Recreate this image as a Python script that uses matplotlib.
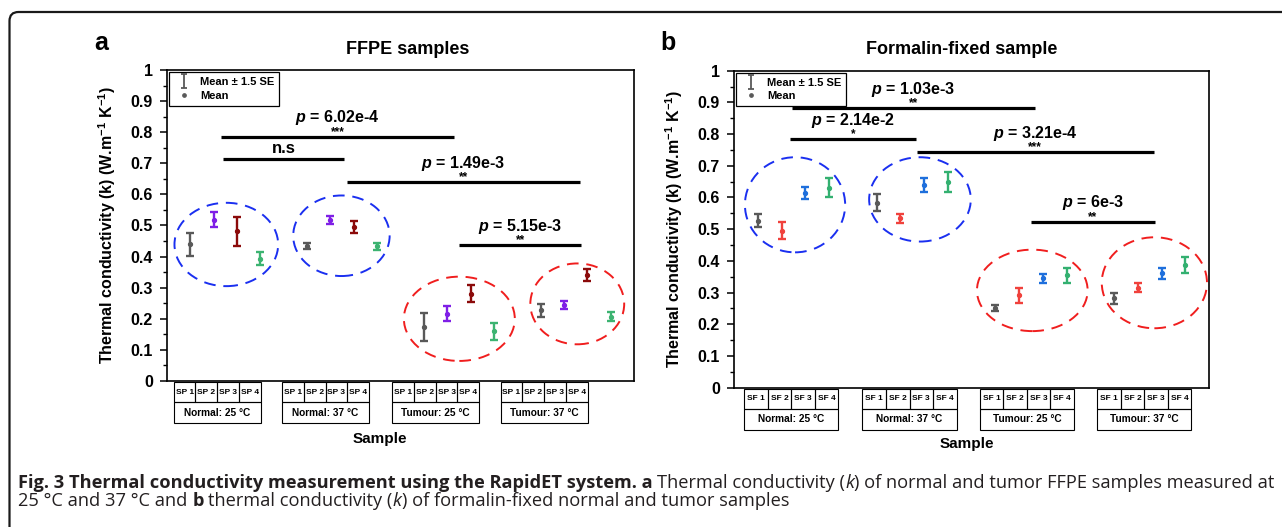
import numpy as np
import matplotlib
matplotlib.use("Agg")
import matplotlib.pyplot as plt
from matplotlib import font_manager
from matplotlib.patches import Ellipse, Rectangle, FancyBboxPatch
from matplotlib.lines import Line2D
from matplotlib.path import Path
from matplotlib.transforms import IdentityTransform
from matplotlib.ticker import MultipleLocator, FuncFormatter

W, H = 1282, 527

plt.rcParams['font.family'] = ['Liberation Sans', 'DejaVu Sans']
plt.rcParams['font.weight'] = 'bold'
plt.rcParams['axes.labelweight'] = 'bold'
plt.rcParams['mathtext.fontset'] = 'custom'
plt.rcParams['mathtext.rm'] = 'Liberation Sans:bold'
plt.rcParams['mathtext.it'] = 'Liberation Sans:italic:bold'
plt.rcParams['mathtext.bf'] = 'Liberation Sans:bold'

# --- data ---
groups = ['Normal: 25 °C', 'Normal: 37 °C', 'Tumour: 25 °C', 'Tumour: 37 °C']
ffpe_names = ['SP 1', 'SP 2', 'SP 3', 'SP 4']
ff_names = ['SF 1', 'SF 2', 'SF 3', 'SF 4']

# FFPE samples, mean and 1.5 SE per group / sample
ffpe_mean = [[0.439, 0.518, 0.481, 0.393],
             [0.434, 0.518, 0.495, 0.433],
             [0.174, 0.217, 0.281, 0.160],
             [0.227, 0.245, 0.340, 0.207]]
ffpe_err = [[0.036, 0.024, 0.047, 0.021],
            [0.011, 0.012, 0.019, 0.011],
            [0.045, 0.024, 0.027, 0.027],
            [0.021, 0.012, 0.019, 0.015]]

# formalin-fixed samples
ff_mean = [[0.527, 0.495, 0.613, 0.630],
           [0.584, 0.534, 0.640, 0.650],
           [0.251, 0.291, 0.345, 0.355],
           [0.282, 0.315, 0.361, 0.387]]
ff_err = [[0.021, 0.027, 0.019, 0.030],
          [0.027, 0.014, 0.023, 0.032],
          [0.009, 0.025, 0.015, 0.024],
          [0.018, 0.014, 0.017, 0.024]]

# significance: (from, to, height, p, stars)
ffpe_sig = [(2.3, 12.3, 0.786, '6.02e-4', '***'),
            (2.4, 7.6, 0.713, None, 'n.s'),
            (7.7, 17.7, 0.639, '1.49e-3', '**'),
            (12.5, 17.75, 0.437, '5.15e-3', '**')]
ff_sig = [(2.45, 12.67, 0.881, '1.03e-3', '**'),
          (2.36, 7.65, 0.784, '2.14e-2', '*'),
          (7.69, 17.68, 0.742, '3.21e-4', '***'),
          (12.5, 17.73, 0.524, '6e-3', '**')]

# --- layout / styles ---
ffpe_colors = ['#595959', '#7f1fe6', '#8b0a0a', '#3cb371']
ff_colors = ['#595959', '#f0413c', '#1e6fdc', '#33b070']
blue_c, red_c = '#1a2ff0', '#f01e1e'

# highlight ellipses (cx, cy, w, h)
ffpe_ell = [(2.54, 0.439, 4.44, 0.268), (7.47, 0.467, 4.13, 0.259),
            (12.52, 0.200, 4.75, 0.271), (17.57, 0.248, 4.02, 0.260)]
ff_ell = [(2.57, 0.577, 4.22, 0.300), (7.83, 0.594, 4.28, 0.266),
          (12.56, 0.307, 4.66, 0.257), (17.70, 0.331, 4.43, 0.287)]

ffpe_box_left, ffpe_cell = [0.29, 4.93, 9.65, 14.29], 0.93
ff_box_left, ff_cell = [0.43, 5.41, 10.35, 15.30], 0.99

# little "I" shaped marker for the legend
ebar_marker = Path([(-0.45, -1), (0.45, -1), (0, -1), (0, 1), (-0.45, 1), (0.45, 1)],
                   [Path.MOVETO, Path.LINETO, Path.MOVETO, Path.LINETO,
                    Path.MOVETO, Path.LINETO])

fig = plt.figure(figsize=(W / 100, H / 100), dpi=100)

# outer frame
frame = FancyBboxPatch((9.5, -30), W + 40, H - 12 + 30,
                       boxstyle="round,pad=0,rounding_size=9",
                       transform=IdentityTransform(), fill=False,
                       edgecolor='#1a1a1a', linewidth=1.6)
fig.add_artist(frame)


def px(x, y):
    return x / W, 1 - y / H


def panel(rect_px, means, errs, colors, names, ell, sig, box_left, cell,
          title, title_x, sample_xy):
    l, t, r, b = rect_px
    ax = fig.add_axes([l / W, 1 - b / H, (r - l) / W, (b - t) / H])
    ax_h = b - t
    ax.set_xlim(0, 20)
    ax.set_ylim(0, 1)

    for g in range(4):
        for i in range(4):
            ax.errorbar(g * 5 + i + 1, means[g][i], yerr=errs[g][i], fmt='o',
                        color=colors[i], ms=2.8, capsize=3.2,
                        elinewidth=1.7, capthick=1.7, zorder=3)

    for k, (cx, cy, w, h) in enumerate(ell):
        ax.add_patch(Ellipse((cx, cy), w, h, fill=False,
                             edgecolor=blue_c if k < 2 else red_c,
                             linewidth=1.4, linestyle=(0, (6, 4))))

    for x0, x1, y, p, stars in sig:
        ax.plot([x0, x1], [y, y], color='black', lw=2.3, solid_capstyle='butt')
        mid = (x0 + x1) / 2
        if p is None:
            ax.text(mid, y + 0.033, stars, ha='center', va='center', fontsize=12)
        else:
            ax.text(mid, y + 0.06, f'$p$ = {p}', ha='center', va='center',
                    fontsize=11.5)
            ax.text(mid, y + 0.006, stars, ha='center', va='baseline', fontsize=8.5)

    # legend
    h1 = Line2D([], [], marker=ebar_marker, ms=9.5, mew=1.3, ls='none',
                color='#595959')
    h2 = Line2D([], [], marker='o', ms=2.4, ls='none', color='#595959')
    leg = ax.legend([h1, h2], ['Mean ± 1.5 SE', 'Mean'], loc='upper left',
                    bbox_to_anchor=(0, 1), borderaxespad=0.2, fancybox=False,
                    edgecolor='black', framealpha=1,
                    handlelength=1.8, handletextpad=0.5, labelspacing=0.3,
                    borderpad=0.45, prop={'weight': 'bold', 'size': 8})
    leg.get_frame().set_linewidth(0.9)

    ax.yaxis.set_major_locator(MultipleLocator(0.1))
    ax.yaxis.set_minor_locator(MultipleLocator(0.05))
    ax.yaxis.set_major_formatter(FuncFormatter(lambda v, _: f'{v:g}'))
    ax.set_xticks([])
    ax.tick_params(axis='y', which='major', direction='out', length=5, width=1.1,
                   labelsize=11.5, pad=5)
    ax.tick_params(axis='y', which='minor', direction='out', length=3, width=1)
    for s in ax.spines.values():
        s.set_linewidth(1.2)
    ax.set_ylabel('Thermal conductivity (k) (W.m$^{-1}$ K$^{-1}$)', fontsize=11.5,
                  fontweight='bold')
    ax.yaxis.set_label_coords(-49 / (r - l), 0.5)

    # category boxes under the axis
    tr = ax.get_xaxis_transform()
    y_top, y_mid, y_bot = -1 / ax_h, -21 / ax_h, -42 / ax_h
    for g in range(4):
        x0 = box_left[g]
        for i in range(4):
            ax.add_patch(Rectangle((x0 + i * cell, y_mid), cell, y_top - y_mid,
                                   transform=tr, clip_on=False, fill=False,
                                   edgecolor='black', lw=0.8))
            ax.text(x0 + (i + 0.5) * cell, (y_top + y_mid) / 2, names[i],
                    transform=tr, ha='center', va='center', fontsize=6)
        ax.add_patch(Rectangle((x0, y_bot), 4 * cell, y_mid - y_bot,
                               transform=tr, clip_on=False, fill=False,
                               edgecolor='black', lw=0.8))
        ax.text(x0 + 2 * cell, (y_mid + y_bot) / 2, groups[g], transform=tr,
                ha='center', va='center', fontsize=7.3)

    fig.text(*px(title_x, 50), title, ha='center', va='center', fontsize=13)
    fig.text(*px(*sample_xy), 'Sample', ha='center', va='center', fontsize=11)
    return ax


panel((167, 70, 634, 381), ffpe_mean, ffpe_err, ffpe_colors, ffpe_names,
      ffpe_ell, ffpe_sig, ffpe_box_left, ffpe_cell, 'FFPE samples', 408, (380, 439))
panel((734, 70.7, 1209, 387.7), ff_mean, ff_err, ff_colors, ff_names,
      ff_ell, ff_sig, ff_box_left, ff_cell, 'Formalin-fixed sample', 962, (967, 444))

fig.text(*px(101, 43), 'a', ha='center', va='center', fontsize=18)
fig.text(*px(668, 43), 'b', ha='center', va='center', fontsize=18)

# caption with mixed styles
names_installed = {f.name for f in font_manager.fontManager.ttflist}
cap_font = 'Liberation Sans Narrow' if 'Liberation Sans Narrow' in names_installed else 'Open Sans'
renderer = fig.canvas.get_renderer()

line1 = [("Fig. 3 Thermal conductivity measurement using the RapidET system. a", 'bold', 'normal', True),
         ("Thermal conductivity (", 'normal', 'normal', False),
         ("k", 'normal', 'italic', False),
         (") of normal and tumor FFPE samples measured at", 'normal', 'normal', False)]
line2 = [("25 °C and 37 °C and", 'normal', 'normal', True),
         ("b", 'bold', 'normal', True),
         ("thermal conductivity (", 'normal', 'normal', False),
         ("k", 'normal', 'italic', False),
         (") of formalin-fixed normal and tumor samples", 'normal', 'normal', False)]


def width_of(s, size, weight):
    t = fig.text(0, 0, s, fontsize=size, family=cap_font, weight=weight)
    w = t.get_window_extent(renderer).width
    t.remove()
    return w


def draw_line(pieces, x, y, size):
    texts = []
    for s, weight, style, space in pieces:
        t = fig.text(*px(x, y), s, fontsize=size, family=cap_font, weight=weight,
                     style=style, va='baseline', ha='left', color='#231f20')
        texts.append(t)
        x = t.get_window_extent(renderer).x1
        if space:
            x += width_of('| |', size, weight) - width_of('||', size, weight)
    return texts, x


trial, end = draw_line(line1, 18, 487.5, 10)
for t in trial:
    t.remove()
cap_size = 10 * (1275 - 18) / (end - 18)
draw_line(line1, 18, 487.5, cap_size)
draw_line(line2, 18, 505.5, cap_size)

fig.savefig('out.png', dpi=100)
